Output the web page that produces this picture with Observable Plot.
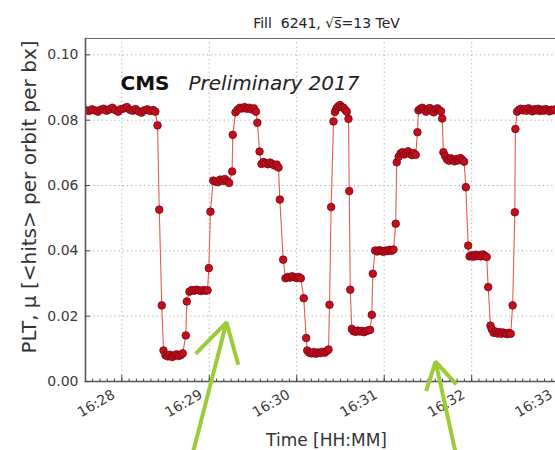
<!DOCTYPE html>
<html><head><meta charset="utf-8">
<script src="https://cdn.jsdelivr.net/npm/d3@7"></script>
<script src="https://cdn.jsdelivr.net/npm/@observablehq/plot@0.6"></script>
<style>html,body{margin:0;padding:0;background:#fff;overflow:hidden;} svg{display:block}</style>
</head><body><div id="chart"></div>
<script>
// seconds after 16:27:00
const seconds = [
 35.5,37.5,39.5,41.5,43.5,45.5,47.5,49.5,51.5,53.5,55.5,57.5,59.5,61.5,63.5,65.5,67.5,69.5,71.5,73.5,75.5,77.5,79.5,81.5,83.0,
 84.5,85.7,87.4,88.6,
 90.0,91.5,93.0,94.5,96.0,97.5,99.0,100.5,101.8,
 103.9,104.6,
 106.4,108.0,109.6,111.2,112.8,114.4,116.0,117.6,118.8,
 119.7,120.8,122.7,
 124.3,125.9,127.5,129.1,130.7,132.3,133.6,
 135.7,136.1,138.0,
 139.4,141.0,142.6,144.2,145.8,147.4,149.0,150.6,152.0,
 153.0,154.5,155.8,
 157.2,158.7,160.2,161.7,163.2,164.7,166.2,167.5,
 168.4,170.7,172.3,
 173.8,175.3,176.8,178.3,179.8,181.3,182.8,
 184.8,186.5,187.2,
 188.6,190.1,191.6,193.1,194.6,196.1,197.6,199.1,200.6,201.8,
 202.5,203.6,205.2,
 206.2,207.3,208.4,209.6,210.8,212.0,213.2,214.3,215.5,
 216.0,216.7,217.8,
 219.0,220.4,221.8,223.2,224.6,226.0,227.4,228.8,230.3,
 231.5,232.2,233.8,
 235.2,236.6,238.0,239.4,240.8,242.2,243.6,245.0,246.4,
 247.9,248.6,
 249.9,251.2,252.5,253.8,255.1,256.4,257.7,259.0,260.3,261.6,
 262.8,263.5,
 264.8,266.1,267.4,268.7,270.0,271.3,272.6,273.9,275.2,276.5,277.8,279.0,
 279.8,280.6,
 281.8,283.1,284.4,285.7,287.0,288.3,289.6,290.9,292.2,293.5,294.8,
 296.0,297.6,
 298.6,299.9,301.2,302.5,303.8,305.1,306.4,307.7,309.0,310.3,
 311.3,312.9,
 313.8,315.1,316.4,317.7,319.0,320.3,321.6,322.9,324.2,325.5,326.8,
 328.1,329.6,330.0,
 331.2,332.5,333.8,335.1,336.4,337.7,339.0,340.3,341.6,342.9,344.2,345.5,346.8,348.1,349.4,350.7,352.0,353.3,354.6,355.9,357.2
];
const mu = [
 .0830,.0828,.0833,.0830,.0826,.0832,.0835,.0829,.0833,.0838,.0831,.0826,.0834,.0836,.0840,.0832,.0829,.0834,.0827,.0823,.0830,.0833,.0828,.0831,.0826,
 .0784,.0526,.0233,.0095,
 .0080,.0077,.0082,.0075,.0079,.0083,.0078,.0081,.0086,
 .0141,.0245,
 .0275,.0280,.0278,.0281,.0279,.0277,.0280,.0278,.0279,
 .0347,.0520,.0615,
 .0612,.0610,.0618,.0614,.0620,.0613,.0608,
 .0643,.0755,.0824,
 .0832,.0838,.0836,.0840,.0835,.0838,.0833,.0836,.0826,
 .0792,.0704,.0666,
 .0672,.0668,.0665,.0670,.0666,.0661,.0664,.0655,
 .0557,.0373,.0316,
 .0320,.0318,.0322,.0319,.0317,.0320,.0316,
 .0255,.0133,.0095,
 .0088,.0086,.0090,.0085,.0089,.0087,.0091,.0088,.0093,.0098,
 .0235,.0534,.0796,
 .0825,.0836,.0842,.0846,.0841,.0838,.0832,.0826,.0804,
 .0583,.0281,.0161,
 .0154,.0152,.0156,.0153,.0155,.0151,.0154,.0156,.0158,
 .0204,.0330,.0401,
 .0398,.0402,.0400,.0397,.0401,.0399,.0403,.0400,.0404,
 .0483,.0671,
 .0688,.0698,.0702,.0695,.0700,.0705,.0697,.0693,.0699,.0694,
 .0763,.0830,
 .0835,.0838,.0832,.0826,.0834,.0837,.0829,.0824,.0833,.0836,.0830,.0827,
 .0805,.0702,
 .0690,.0680,.0676,.0683,.0679,.0674,.0681,.0677,.0684,.0679,.0673,
 .0595,.0416,
 .0383,.0386,.0382,.0388,.0384,.0387,.0383,.0389,.0385,.0381,
 .0289,.0171,
 .0160,.0149,.0153,.0147,.0151,.0146,.0150,.0148,.0145,.0149,.0146,
 .0233,.0518,.0773,
 .0826,.0832,.0835,.0830,.0834,.0829,.0836,.0831,.0827,.0833,.0830,.0835,.0828,.0832,.0829,.0834,.0831,.0827,.0832,.0830,.0833
];
const xTickLabels = ["16:28","16:29","16:30","16:31","16:32","16:33"];
const yTicks = [0, 0.02, 0.04, 0.06, 0.08, 0.10];
const titleText = "Fill\u00a0 6241, \u221As\u0305=13 TeV";
const xLabel = "Time [HH:MM]";
const yLabel = "PLT, \u03bc [<hits> per orbit per bx]";
const cmsText = "CMS";
const prelimText = "Preliminary 2017";
// annotation arrows (seconds after 16:27:00, mu)
const arrowTailSec = [109.2, 288.9];
const arrowTailMu = [-0.0211, -0.0217];
const arrowTipSec = [131.8, 275.2];
const arrowTipMu = [0.0181, 0.0061];

const Y = 2017, M = 8, D = 17;
const at = s => new Date(Date.UTC(Y, M, D, 16, 27, 0) + s * 1000);
const data = seconds.map((s, i) => ({time: at(s), mu: mu[i]}));
const xTicks = xTickLabels.map(l => { const [h, m] = l.split(":").map(Number); return new Date(Date.UTC(Y, M, D, h, m, 0)); });
const xDomain = [at(35.1), at(357.5)];
const minorX = d3.utcSecond.every(5).range(xDomain[0], xDomain[1]);
const arrows = arrowTailSec.map((s, i) => ({x1: at(s), y1: arrowTailMu[i], x2: at(arrowTipSec[i]), y2: arrowTipMu[i]}));
const fmt = d3.utcFormat("%H:%M");

const chart = Plot.plot({
  width: 555, height: 450,
  marginLeft: 85, marginRight: 0, marginTop: 38, marginBottom: 69,
  style: {fontFamily: "DejaVu Sans", fontSize: "14px", color: "#333", background: "#fff"},
  x: {type: "utc", domain: xDomain},
  y: {domain: [0, 0.105]},
  marks: [
    Plot.gridX(xTicks, {stroke: "#aaa", strokeOpacity: 1, strokeDasharray: "1.2,3"}),
    Plot.gridY(yTicks, {stroke: "#aaa", strokeOpacity: 1, strokeDasharray: "1.2,3"}),
    Plot.line(data, {x: "time", y: "mu", stroke: "#e85a52", strokeWidth: 1.1, clip: true}),
    Plot.dot(data, {x: "time", y: "mu", r: 3.8, fill: "#c0101c", stroke: "#820010", strokeWidth: 0.8, clip: true}),
    Plot.frame({anchor: "left", stroke: "#555", strokeWidth: 1.6}),
    Plot.frame({anchor: "bottom", stroke: "#555", strokeWidth: 1.6}),
    Plot.frame({anchor: "top", stroke: "#666", strokeWidth: 1.2}),
    Plot.axisY(yTicks, {tickSize: 0, tickPadding: 7, tickFormat: ".2f", label: null, fontSize: 14, fill: "#3a3a3a"}),
    Plot.axisY(yTicks, {tickSize: -5, tickFormat: () => "", label: null, stroke: "#444"}),
    Plot.axisX(xTicks, {tickSize: 0, tickPadding: 12, tickRotate: -30, tickFormat: fmt, label: null, fontSize: 14, textAnchor: "end", dx: -8, fill: "#3a3a3a"}),
    Plot.axisX(xTicks, {tickSize: -6, tickFormat: () => "", label: null, stroke: "#444"}),
    Plot.axisX(minorX, {tickSize: -2.5, tickFormat: () => "", label: null, stroke: "#444"}),
    Plot.text([titleText], {text: d => d, frameAnchor: "top", dy: -15, dx: 6, fontSize: 14, lineAnchor: "middle", fill: "#222"}),
    Plot.text([cmsText], {text: d => d, frameAnchor: "top-left", dx: 35, dy: 45, fontSize: 20, fontWeight: "bold", textAnchor: "start", lineAnchor: "middle", fill: "#111"}),
    Plot.text([prelimText], {text: d => d, frameAnchor: "top-left", dx: 103, dy: 45, fontSize: 20, fontStyle: "italic", textAnchor: "start", lineAnchor: "middle", fill: "#222"}),
    Plot.text([xLabel], {text: d => d, frameAnchor: "bottom", dy: 59, dx: 6, fontSize: 17, lineAnchor: "middle", fill: "#333"}),
    Plot.text([yLabel], {text: d => d, frameAnchor: "left", rotate: -90, dx: -56, dy: -13, fontSize: 20, lineAnchor: "middle", textAnchor: "middle", fill: "#333"}),
    Plot.arrow(arrows, {x1: "x1", y1: "y1", x2: "x2", y2: "y2", stroke: "#9ccd38", strokeWidth: 4, headLength: 24, headAngle: 60, strokeLinecap: "butt"})
  ]
});
document.getElementById("chart").appendChild(chart);
</script></body></html>
